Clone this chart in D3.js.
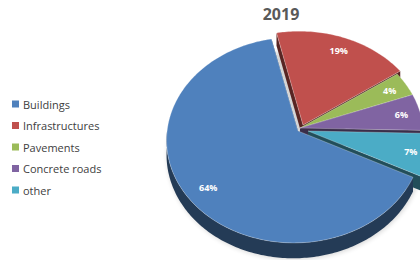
<!DOCTYPE html>
<html><head><meta charset="utf-8">
<script src="https://cdn.jsdelivr.net/npm/d3@7"></script>
<style>html,body{margin:0;padding:0;background:#fff;overflow:hidden}</style>
</head><body>
<svg id="chart" width="420" height="260"></svg>
<script>
// ---- data ----
const title = "2019";
const categories = ["Buildings", "Infrastructures", "Pavements", "Concrete roads", "other"];
const values = [64, 19, 4, 6, 7];
const labels = ["64%", "19%", "4%", "6%", "7%"];

// ---- style ----
const colors = ["#4f81bd", "#c0504d", "#9bbb59", "#8064a2", "#4bacc6"];
const hub = {x: 300, y: 128};
const S = 127, V = 102, K = 0.088, KX = 0.03, DEPTH = 14;
const explode = {"Buildings": [-2, 3], "Infrastructures": [3, -3], "Pavements": [0, 0], "Concrete roads": [0, 0], "other": [8, 3]};
const firstSliceEnd = -13; // degrees where the first slice (Buildings) ends
const total = d3.sum(values);
const startAngle = (firstSliceEnd - values[0] / total * 360) * Math.PI / 180;

const svg = d3.select("#chart");
const defs = svg.append("defs");
defs.append("filter").attr("id", "blur").attr("x", "-20%").attr("y", "-20%").attr("width", "140%").attr("height", "140%")
  .append("feGaussianBlur").attr("stdDeviation", 2.5);

const xs = d3.scaleLinear().domain([-1, 1]).range([-S, S]);
const ys = d3.scaleLinear().domain([-1, 1]).range([V, -V]);
const color = d3.scaleOrdinal().domain(categories).range(colors);
const wallColor = c => d3.color(c).darker(2.2).formatHex();

function proj(t, rho, sh, down) {
  const X = rho * Math.sin(t), Y = rho * Math.cos(t);
  const den = 1 + K * Y + KX * X;
  return [hub.x + sh[0] + xs(X / den), hub.y + sh[1] + ys(Y / den) + (down ? DEPTH / den : 0)];
}
function arcPts(a0, a1, sh, down) {
  const n = Math.max(2, Math.ceil(Math.abs(a1 - a0) / (Math.PI / 180)) + 1);
  return d3.range(n).map(i => proj(a0 + (a1 - a0) * i / (n - 1), 1, sh, down));
}
const line = d3.line().curve(d3.curveLinearClosed);

const pie = d3.pie().sort(null).value(d => d.v).startAngle(startAngle).endAngle(startAngle + 2 * Math.PI);
const arcs = pie(categories.map((c, i) => ({c, v: values[i], label: labels[i]})));

// soft shadow
svg.append("path")
  .attr("d", line(arcPts(0, 2 * Math.PI, [-1, 4], true)))
  .attr("fill", "#000").attr("opacity", 0.16).attr("filter", "url(#blur)");

const gWalls = svg.append("g");
// radial walls
arcs.forEach(a => {
  const sh = explode[a.data.c];
  [a.startAngle, a.endAngle].forEach(t => {
    const p0 = proj(0, 0, sh, false), p1 = proj(t, 1, sh, false), p2 = proj(t, 1, sh, true), p3 = proj(0, 0, sh, true);
    gWalls.append("path").attr("d", line([p0, p1, p2, p3]))
      .attr("fill", wallColor(color(a.data.c)));
  });
});
// outer walls (front half)
arcs.forEach(a => {
  const sh = explode[a.data.c];
  for (let k = -2; k <= 1; k++) {
    const lo = Math.max(a.startAngle, Math.PI / 2 + 2 * Math.PI * k);
    const hi = Math.min(a.endAngle, 3 * Math.PI / 2 + 2 * Math.PI * k);
    if (hi > lo) {
      const pts = arcPts(lo, hi, sh, false).concat(arcPts(hi, lo, sh, true));
      gWalls.append("path").attr("d", line(pts)).attr("fill", wallColor(color(a.data.c)));
    }
  }
});
// top faces
svg.append("g").selectAll("path").data(arcs).join("path")
  .attr("d", a => {
    const sh = explode[a.data.c];
    return line([proj(0, 0, sh, false)].concat(arcPts(a.startAngle, a.endAngle, sh, false)));
  })
  .attr("fill", a => color(a.data.c))
  .attr("stroke", "rgba(255,255,255,0.45)").attr("stroke-width", 0.6).attr("stroke-linejoin", "round");

// data labels
svg.append("g").selectAll("text").data(arcs).join("text")
  .attr("x", a => proj((a.startAngle + a.endAngle) / 2, 0.84, explode[a.data.c], false)[0])
  .attr("y", a => proj((a.startAngle + a.endAngle) / 2, 0.84, explode[a.data.c], false)[1])
  .attr("text-anchor", "middle").attr("dominant-baseline", "central")
  .attr("font-family", "'Open Sans', sans-serif").attr("font-weight", "bold").attr("font-size", 9)
  .attr("fill", "#fff").text(a => a.data.label);

// title
svg.append("text").attr("x", 281).attr("y", 20).attr("text-anchor", "middle")
  .attr("font-family", "'Open Sans', sans-serif").attr("font-weight", "bold").attr("font-size", 16)
  .attr("fill", "#595959").text(title);

// legend
const ly = d3.scalePoint().domain(categories).range([104, 190]);
const lg = svg.append("g").selectAll("g").data(categories).join("g")
  .attr("transform", c => `translate(12,${ly(c)})`);
lg.append("rect").attr("x", 0).attr("y", -3.5).attr("width", 7).attr("height", 7).attr("fill", c => color(c));
lg.append("text").attr("x", 11).attr("y", 0).attr("dominant-baseline", "central")
  .attr("font-family", "'Open Sans', sans-serif").attr("font-size", 11).attr("fill", "#404040").text(c => c);
</script>
</body></html>
